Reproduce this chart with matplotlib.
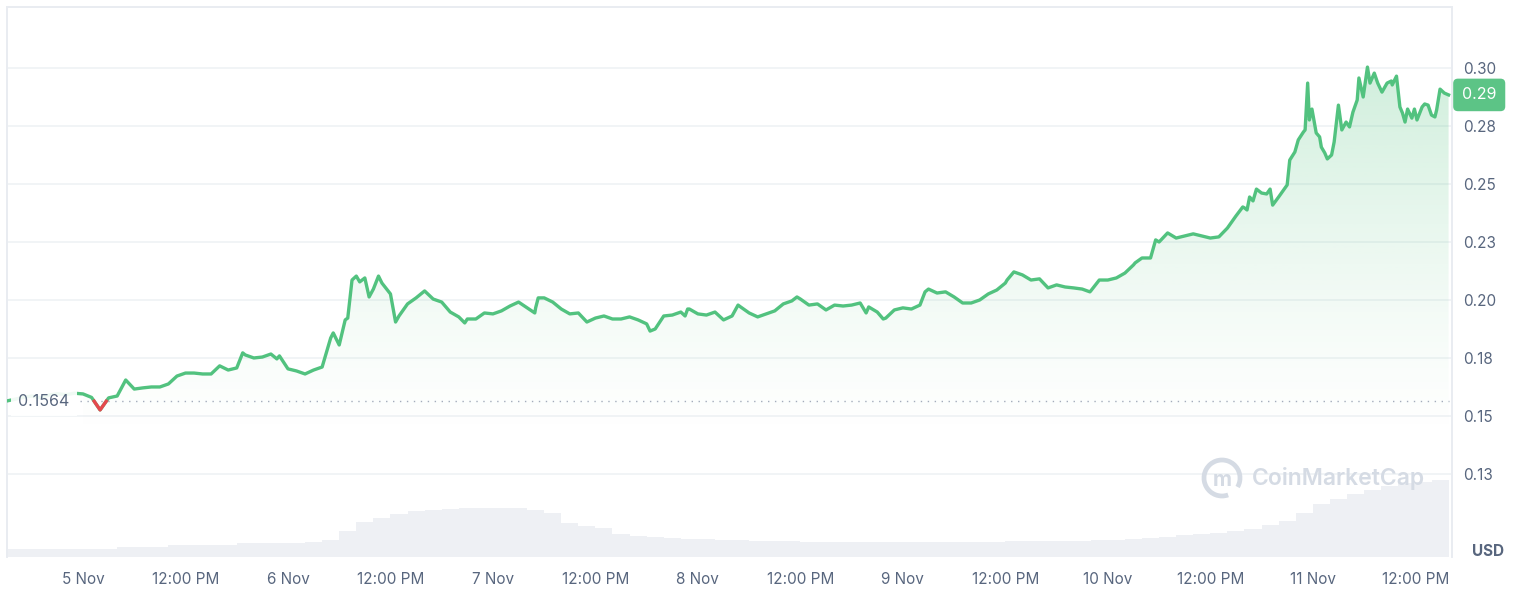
import matplotlib.pyplot as plt
import numpy as np
from matplotlib.patches import Arc
from matplotlib.transforms import IdentityTransform, blended_transform_factory

# hours since 5 Nov 00:00
hours = list(range(-9, 142)) + [
    141.3, 141.9, 142.3, 142.9, 143.1, 143.4, 143.6, 143.9, 144.4, 144.8,
    145.0, 145.4, 145.7, 146.2, 146.5, 147.0, 147.4, 147.9, 148.3, 148.7,
    149.2, 149.4, 149.9, 150.3, 150.4, 150.7, 151.2, 151.6, 152.1, 152.7,
    153.2, 153.3, 153.8, 154.2, 154.5, 154.8, 155.1, 155.6, 155.9, 156.2,
    156.8, 157.1, 157.5, 157.9, 158.3, 158.5, 158.9, 159.4, 159.9]

prices = [
    0.1564, 0.1572, 0.1580, 0.1586, 0.1578, 0.1590, 0.1596, 0.1592, 0.1598,
    0.1595, 0.1580, 0.1526, 0.1578, 0.1586, 0.1655, 0.1616, 0.1621, 0.1625, 0.1625,
    0.1638, 0.1672, 0.1685, 0.1685, 0.1681, 0.1681, 0.1716, 0.1698, 0.1707, 0.1763,
    0.1750, 0.1754, 0.1767, 0.1759, 0.1703, 0.1694, 0.1681, 0.1698, 0.1711, 0.1836,
    0.1806, 0.1922, 0.2103, 0.2095, 0.2047, 0.2073, 0.2026, 0.1931, 0.1983, 0.2009,
    0.2039, 0.2004, 0.1991, 0.1948, 0.1927, 0.1918, 0.1918, 0.1944, 0.1940, 0.1953,
    0.1974, 0.1991, 0.1966, 0.1966, 0.2009, 0.1991, 0.1961, 0.1940, 0.1944, 0.1905,
    0.1922, 0.1931, 0.1918, 0.1918, 0.1927, 0.1914, 0.1897, 0.1875, 0.1931, 0.1935,
    0.1948, 0.1961, 0.1940, 0.1935, 0.1948, 0.1914, 0.1931, 0.1970, 0.1944, 0.1927,
    0.1940, 0.1953, 0.1983, 0.1996, 0.2004, 0.1978, 0.1983, 0.1957, 0.1978, 0.1974,
    0.1978, 0.1987, 0.1970, 0.1948, 0.1922, 0.1957, 0.1966, 0.1961, 0.1978, 0.2047,
    0.2030, 0.2035, 0.2013, 0.1987, 0.1987, 0.2000, 0.2026, 0.2043, 0.2073, 0.2121,
    0.2108, 0.2086, 0.2091, 0.2052, 0.2065, 0.2056, 0.2052, 0.2047, 0.2039, 0.2086,
    0.2086, 0.2095, 0.2116, 0.2151, 0.2181, 0.2181, 0.2250, 0.2289, 0.2267, 0.2276,
    0.2285, 0.2276, 0.2267, 0.2272, 0.2310, 0.2362, 0.2397, 0.2427, 0.2461, 0.2478,
    0.2444, 0.2496,
    0.2603, 0.2638, 0.2690, 0.2724, 0.2733, 0.2935, 0.2776, 0.2823, 0.2720, 0.2703,
    0.2659, 0.2634, 0.2608, 0.2625, 0.2681, 0.2840, 0.2733, 0.2767, 0.2746, 0.2810,
    0.2862, 0.2957, 0.2875, 0.2978, 0.3004, 0.2935, 0.2978, 0.2935, 0.2896, 0.2935,
    0.2944, 0.2927, 0.2965, 0.2832, 0.2806, 0.2767, 0.2823, 0.2784, 0.2823, 0.2776,
    0.2832, 0.2845, 0.2840, 0.2797, 0.2789, 0.2819, 0.2909, 0.2892, 0.2884]

# extra in-between ticks where the price moved sharply
hours_extra = [18.7, 22.7, 29.3, 30.7, 31.5, 32.4, 33.5, 34.6, 36.6, 44.7, 52.9, 53.3,
               66.4, 70.5, 70.8, 76.7, 83.6, 91.7, 93.7, 98.6, 108.2, 117.9, 123.2,
               125.6, 135.8, 136.3, 136.6, 137.4, 138.6, 139.3]
prices_extra = [0.1772, 0.1746, 0.1858, 0.1914, 0.2086, 0.2078, 0.2013, 0.2103, 0.1905,
                0.1901, 0.1944, 0.2009, 0.1866, 0.1931, 0.1961, 0.1978, 0.2013, 0.1944,
                0.1918, 0.2035, 0.2086, 0.2035, 0.2160, 0.2259, 0.2401, 0.2388, 0.2444,
                0.2478, 0.2457, 0.2409]

vol_hours = list(range(-9, 160, 2))
volume_m = [
    80, 80, 80, 80, 80,
    80, 80, 100, 100, 100,
    120, 120, 120, 120, 140,
    140, 140, 140, 150, 170,
    260, 350, 390, 430, 460,
    470, 480, 490, 490, 490,
    490, 470, 440, 340, 310,
    290, 230, 210, 200, 190,
    180, 180, 170, 170, 160,
    160, 160, 150, 150, 150,
    150, 150, 150, 150, 150,
    150, 150, 150, 150, 160,
    160, 160, 160, 160, 170,
    170, 180, 190, 200, 220,
    230, 240, 260, 280, 320,
    360, 440, 530, 580, 630,
    670, 710, 740, 750, 770]

base_price = 0.1564
last_label = '0.29'
tick_hours = list(range(0, 157, 12))
tick_labels = ['5 Nov', '12:00 PM', '6 Nov', '12:00 PM', '7 Nov', '12:00 PM', '8 Nov',
               '12:00 PM', '9 Nov', '12:00 PM', '10 Nov', '12:00 PM', '11 Nov', '12:00 PM']
y_ticks = [0.125, 0.15, 0.175, 0.20, 0.225, 0.25, 0.275, 0.30]
y_labels = ['0.13', '0.15', '0.18', '0.20', '0.23', '0.25', '0.28', '0.30']

green = '#52c27f'
red = '#e5484d'
grey_txt = '#58667e'
grid_c = '#eff2f5'

plt.rcParams['font.family'] = ['Inter', 'DejaVu Sans']

# merge the extra points into the series
order = np.argsort(np.array(hours + hours_extra, dtype=float), kind='stable')
h = np.array(hours + hours_extra, dtype=float)[order]
p = np.array(prices + prices_extra)[order]

fig = plt.figure(figsize=(15.22, 6.04), dpi=100)
ax_vol = fig.add_axes([7 / 1522, 47 / 604, 1445 / 1522, 550 / 604])
ax = ax_vol.twinx()

x0, x1 = -8.9, 160.3
y0, y1 = 0.0892, 0.3263

ax_vol.bar(vol_hours, volume_m, width=2.0, color='#eef0f4', linewidth=0, zorder=1)
ax_vol.set_ylim(0, 5500)
ax_vol.set_xlim(x0, x1)
ax_vol.set_yticks([])
ax_vol.set_xticks(tick_hours)
ax_vol.set_xticklabels(tick_labels)
ax_vol.tick_params(axis='x', length=0, pad=11, labelsize=11, labelcolor=grey_txt)

ax.set_xlim(x0, x1)
ax.set_ylim(y0, y1)
ax.set_yticks(y_ticks)
ax.set_yticklabels(y_labels)
ax.tick_params(axis='y', length=0, pad=8, labelsize=11, labelcolor=grey_txt)
for yt in y_ticks:
    ax.axhline(yt, color=grid_c, lw=1.2, zorder=0)

for a in (ax, ax_vol):
    for s in ('top', 'left', 'right'):
        a.spines[s].set_color('#e9ecf1')
        a.spines[s].set_linewidth(1.2)
    a.spines['bottom'].set_visible(False)

# gradient fill under the visible part of the line, fading out near the bottom
vis = h >= -0.4
poly = ax.fill_between(h[vis], p[vis], y0, color='none', lw=0)
n = 256
alpha = 0.27 * np.clip((np.linspace(y0, y1, n) - 0.14) / (0.30 - 0.14), 0, 1) ** 1.3
grad = np.zeros((n, 2, 4))
grad[:, :, 0] = 0x52 / 255
grad[:, :, 1] = 0xc2 / 255
grad[:, :, 2] = 0x7f / 255
grad[:, :, 3] = alpha[:, None]
im = ax.imshow(grad, extent=[x0, x1, y0, y1], origin='lower', aspect='auto', zorder=2)
im.set_clip_path(poly.get_paths()[0], transform=ax.transData)

# price line, red where below the opening price
ax.plot(h, p, color=green, lw=2.4, zorder=4, solid_joinstyle='round')
td = np.linspace(h[0], h[-1], 8000)
pd_ = np.interp(td, h, p)
ax.plot(td, np.where(pd_ < base_price, pd_, np.nan), color=red, lw=2.4, zorder=5)

ax.hlines(base_price, -0.4, h[-1], colors='#a3acbb', lw=1, linestyles=(0, (1, 4)), zorder=3)
ax.text(-7.6, base_price, '0.1564', ha='left', va='center', fontsize=11.5, color=grey_txt,
        zorder=6, bbox=dict(boxstyle='square,pad=0.45', fc='white', ec='none', alpha=0.92))

# last price badge
trans = blended_transform_factory(ax.transAxes, ax.transData)
ax.text(1.0069, p[-1], last_label, transform=trans, ha='left', va='center', fontsize=11.5,
        color='white', zorder=7, clip_on=False,
        bbox=dict(boxstyle='round,pad=0.55,rounding_size=0.3', fc='#5cc486', ec='none'))

fig.text(1472 / 1522, 1 - 551 / 604, 'USD', ha='left', va='center', fontsize=11,
         fontweight='bold', color=grey_txt)

# watermark
wm = '#d5dbe4'
fig.add_artist(Arc((1222, 604 - 478), 36, 36, theta1=-30, theta2=290, lw=3.4,
                   color=wm, transform=IdentityTransform()))
fig.text(1222 / 1522, 1 - 480 / 604, 'm', ha='center', va='center', fontsize=15,
         fontweight='bold', color=wm)
fig.text(1252 / 1522, 1 - 479 / 604, 'CoinMarketCap', ha='left', va='center', fontsize=16.5,
         fontweight='semibold', color=wm)

fig.savefig('out.png', dpi=100)
